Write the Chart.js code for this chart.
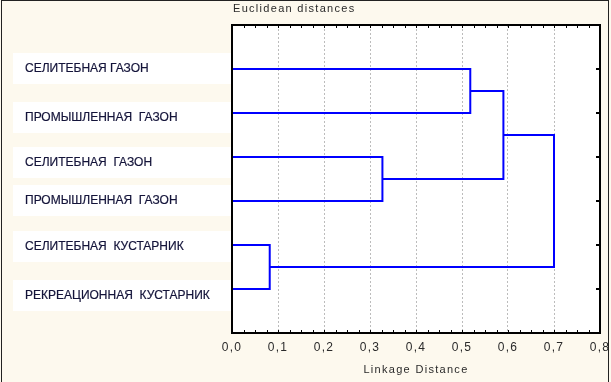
<!DOCTYPE html>
<html>
<head>
<meta charset="utf-8">
<script src="https://cdn.jsdelivr.net/npm/chart.js@4.4.1/dist/chart.umd.min.js"></script>
<style>
  html, body { margin: 0; padding: 0; background: #fdf9ee; }
  canvas { display: block; }
</style>
</head>
<body>
<canvas id="c" width="611" height="382"></canvas>
<script>
  // Leaves, top to bottom, as the tree orders them.
  const LEAVES = [
    'СЕЛИТЕБНАЯ ГАЗОН',
    'ПРОМЫШЛЕННАЯ  ГАЗОН',
    'СЕЛИТЕБНАЯ  ГАЗОН',
    'ПРОМЫШЛЕННАЯ  ГАЗОН',
    'СЕЛИТЕБНАЯ  КУСТАРНИК',
    'РЕКРЕАЦИОННАЯ  КУСТАРНИК',
  ];

  // Joins: node ids 0..5 are leaves, each join makes node 6, 7, ...
  const JOIN_A = [4, 2, 0, 8, 9];
  const JOIN_B = [5, 3, 1, 7, 6];
  const JOIN_DIST = [0.082, 0.327, 0.518, 0.590, 0.700];

  const X_TICKS = [0, 0.1, 0.2, 0.3, 0.4, 0.5, 0.6, 0.7, 0.8];

  const BLUE = '#0000ff';
  const INK = '#2a2a2a';
  const FONT = '"Liberation Sans", Arial, sans-serif';
  // small per-label vertical nudges, the boxes don't sit exactly on the leaves
  const LABEL_NUDGE = [-1, 4, 5, -1, 1, 6];

  // node positions: x = join distance, y = leaf slot (1..n)
  const nodeX = LEAVES.map(() => 0);
  const nodeY = LEAVES.map((_, i) => i + 1);
  const datasets = JOIN_A.map((a, k) => {
    const b = JOIN_B[k];
    const d = JOIN_DIST[k];
    nodeX.push(d);
    nodeY.push((nodeY[a] + nodeY[b]) / 2);
    return {
      data: [
        { x: nodeX[a], y: nodeY[a] },
        { x: d, y: nodeY[a] },
        { x: d, y: nodeY[b] },
        { x: nodeX[b], y: nodeY[b] },
      ],
      borderColor: BLUE,
      borderWidth: 2,
      pointRadius: 0,
      tension: 0,
      fill: false,
    };
  });

  const dendroDecor = {
    id: 'dendroDecor',
    beforeDraw(chart) {
      const { ctx, chartArea: a } = chart;
      ctx.save();
      ctx.fillStyle = '#fdf9ee';
      ctx.fillRect(0, 0, chart.width, chart.height);
      ctx.fillStyle = '#ffffff';
      ctx.fillRect(a.left, a.top, a.right - a.left, a.bottom - a.top);
      ctx.strokeStyle = '#222';
      ctx.lineWidth = 1;
      ctx.strokeRect(1.5, 0.5, 607, 400);
      ctx.restore();
      // the axis texts are spaced out a little
      ctx.letterSpacing = '1.3px';
    },
    afterDatasetsDraw(chart) {
      const { ctx, chartArea: a } = chart;
      const xs = chart.scales.x;
      const ys = chart.scales.y;
      ctx.save();
      // frame
      ctx.strokeStyle = '#000';
      ctx.lineWidth = 2;
      ctx.strokeRect(a.left, a.top, a.right - a.left, a.bottom - a.top);
      // minor ticks on top and bottom
      ctx.lineWidth = 1;
      ctx.beginPath();
      for (let v = 0; v <= 0.8001; v += 0.025) {
        const x = Math.round(xs.getPixelForValue(v)) + 0.5;
        ctx.moveTo(x, a.top); ctx.lineTo(x, a.top + 3);
        ctx.moveTo(x, a.bottom); ctx.lineTo(x, a.bottom - 3);
      }
      ctx.stroke();
      // right ticks at the leaves
      ctx.lineWidth = 2;
      ctx.beginPath();
      LEAVES.forEach((_, i) => {
        const y = Math.round(ys.getPixelForValue(i + 1));
        ctx.moveTo(a.right, y); ctx.lineTo(a.right - 4, y);
      });
      ctx.stroke();

      // title
      ctx.letterSpacing = '1.3px';
      ctx.font = '11px ' + FONT;
      ctx.fillStyle = INK;
      ctx.textBaseline = 'middle';
      ctx.textAlign = 'left';
      ctx.fillText('Euclidean distances', a.left + 1, 9);

      // leaf labels on white boxes
      ctx.letterSpacing = '0px';
      ctx.font = '12px ' + FONT;
      LEAVES.forEach((name, i) => {
        const cy = ys.getPixelForValue(i + 1) + LABEL_NUDGE[i];
        const w = ctx.measureText(name).width;
        const tx = Math.min(25, 210 - w);
        const bx = tx - 12;
        ctx.fillStyle = '#ffffff';
        ctx.fillRect(bx, Math.round(cy - 15), a.left - 1 - bx, 31);
        ctx.fillStyle = '#14143a';
        ctx.strokeStyle = '#14143a';
        ctx.lineWidth = 0.2;
        ctx.fillText(name, tx, cy + 1);
        ctx.strokeText(name, tx, cy + 1);
      });
      ctx.restore();
    },
  };

  new Chart(document.getElementById('c'), {
    type: 'line',
    data: { datasets },
    plugins: [dendroDecor],
    options: {
      responsive: false,
      animation: false,
      layout: { padding: { left: 232, right: 11, top: 25, bottom: 0 } },
      plugins: { legend: { display: false }, tooltip: { enabled: false } },
      scales: {
        x: {
          type: 'linear',
          min: 0,
          max: 0.8,
          afterBuildTicks(scale) {
            scale.ticks = X_TICKS.map(v => ({ value: v }));
          },
          afterFit(scale) {
            scale.height = 49;
            scale.paddingLeft = 0;
            scale.paddingRight = 0;
          },
          ticks: {
            color: INK,
            padding: 7,
            font: { family: FONT, size: 12 },
            callback: v => v.toFixed(1).replace('.', ','),
          },
          grid: {
            drawTicks: false,
            lineWidth: 1,
            color: c => (c.tick && (c.tick.value === 0 || c.tick.value === 0.8)) ? 'rgba(0,0,0,0)' : '#bcbcbc',
          },
          border: { display: false, dash: [2, 2] },
          title: {
            display: true,
            text: 'Linkage Distance',
            color: INK,
            font: { family: FONT, size: 11 },
            padding: { top: 0, bottom: 5 },
          },
        },
        y: {
          type: 'linear',
          min: 0,
          max: LEAVES.length + 1,
          reverse: true,
          display: false,
        },
      },
    },
  });
</script>
</body>
</html>
